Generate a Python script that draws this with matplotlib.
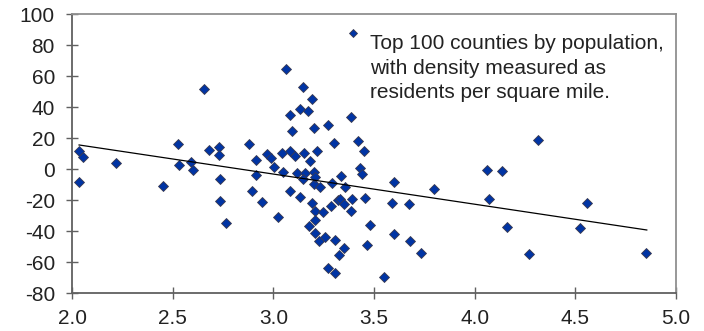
import matplotlib.pyplot as plt

plt.rcParams['font.family'] = ['Liberation Sans', 'DejaVu Sans']
plt.rcParams['axes.unicode_minus'] = False

# density (log10 residents per sq mile) vs. change
density = [
    2.035, 2.053, 2.033, 2.22, 2.454, 2.525, 2.532, 2.59, 2.60, 2.657,
    2.682, 2.732, 2.729, 2.735, 2.737, 2.763,
    2.879, 3.061, 3.146, 3.192, 3.133, 3.173, 3.085, 3.384, 3.204, 3.270,
    3.094, 3.302, 3.421, 3.449, 2.916, 2.969, 2.989, 3.045, 3.085, 3.106,
    3.153, 3.219, 3.183, 3.002, 3.048, 2.913, 3.119, 3.159, 3.202, 3.149,
    3.201, 3.234, 3.290, 3.338, 3.358, 3.429, 3.442, 3.598, 3.800, 2.896,
    3.085, 2.942, 3.134, 3.192, 3.209, 3.249, 3.288, 3.320, 3.333, 3.350,
    3.384, 3.392, 3.454, 3.590, 3.676, 3.025, 3.206, 3.176, 3.206, 3.229,
    3.259, 3.304, 3.350, 3.328, 3.480, 3.467, 3.598, 3.679, 3.732, 3.270,
    3.304, 3.548, 3.209,
    4.315, 4.060, 4.138, 4.070, 4.557, 4.160, 4.525, 4.272, 4.851,
]
change = [
    11.7, 7.7, -8.0, 3.8, -10.6, 16.2, 2.7, 4.8, -0.3, 51.5,
    12.4, 14.3, 8.9, -6.5, -20.3, -34.9,
    16.2, 64.4, 53.2, 45.0, 39.0, 37.7, 34.7, 33.8, 26.7, 28.3,
    24.8, 17.1, 18.0, 11.7, 5.9, 9.8, 7.4, 10.2, 11.9, 8.5,
    10.2, 11.7, 5.3, 1.6, -1.8, -3.7, -2.3, -2.6, -2.0, -6.3,
    -9.7, -11.7, -8.7, -4.4, -11.3, 0.6, -3.1, -8.0, -13.0, -13.8,
    -13.8, -21.3, -17.7, -22.0, -26.9, -27.4, -23.5, -19.8, -19.2, -22.4,
    -27.1, -19.2, -18.8, -22.0, -22.2, -30.6, -32.9, -36.6, -40.9, -46.1,
    -43.5, -45.6, -51.0, -55.3, -36.0, -48.6, -41.9, -46.1, -53.8, -63.9,
    -67.1, -69.7, -4.8,
    18.8, -0.3, -1.2, -19.2, -21.8, -37.0, -37.7, -54.8, -54.2,
]

# spreadsheet linear trendline
trend_x = [2.035, 4.855]
trend_y = [15.6, -39.2]

xticks = [2.0, 2.5, 3.0, 3.5, 4.0, 4.5, 5.0]
yticks = [-80, -60, -40, -20, 0, 20, 40, 60, 80, 100]

label_lines = ["Top 100 counties by population,",
               "with density measured as",
               "residents per square mile."]

MARKER = dict(marker='D', color='#0034a4', markersize=5.2,
              markeredgecolor='#3a3a50', markeredgewidth=0.6, linestyle='none')
FS = 15
W, H = 704, 331

fig = plt.figure(figsize=(W / 100, H / 100), dpi=100)
ax = fig.add_axes([0.1023, 0.1139, 0.8579, 0.8438])

ax.plot(density, change, **MARKER)
ax.plot(trend_x, trend_y, color='black', lw=0.9)

ax.set_xlim(2.0, 5.0)
ax.set_ylim(-80, 100)
ax.set_xticks(xticks)
ax.set_yticks(yticks)
ax.xaxis.set_major_formatter(plt.FormatStrFormatter('%.1f'))

for s in ['top', 'right']:
    ax.spines[s].set_color('#909090')
    ax.spines[s].set_linewidth(1.3)
for s in ['left', 'bottom']:
    ax.spines[s].set_color('#606060')
    ax.spines[s].set_linewidth(1.3)
ax.tick_params(direction='inout', length=8.6, width=1, color='#606060',
               labelsize=FS, labelcolor='#222222')
ax.tick_params(axis='x', pad=7)
ax.tick_params(axis='y', pad=8)

# legend: small marker beside the first line of a three-line label
leg_marker = dict(MARKER, markersize=4.0)
ax.plot([353 / W], [1 - 32.7 / H], transform=fig.transFigure,
        clip_on=False, **leg_marker)
for i, line in enumerate(label_lines):
    fig.text(370.5 / W, 1 - (49 + 24.5 * i) / H, line, fontsize=FS,
             color='#222222', va='baseline', ha='left')

fig.savefig('out.png', dpi=100)
